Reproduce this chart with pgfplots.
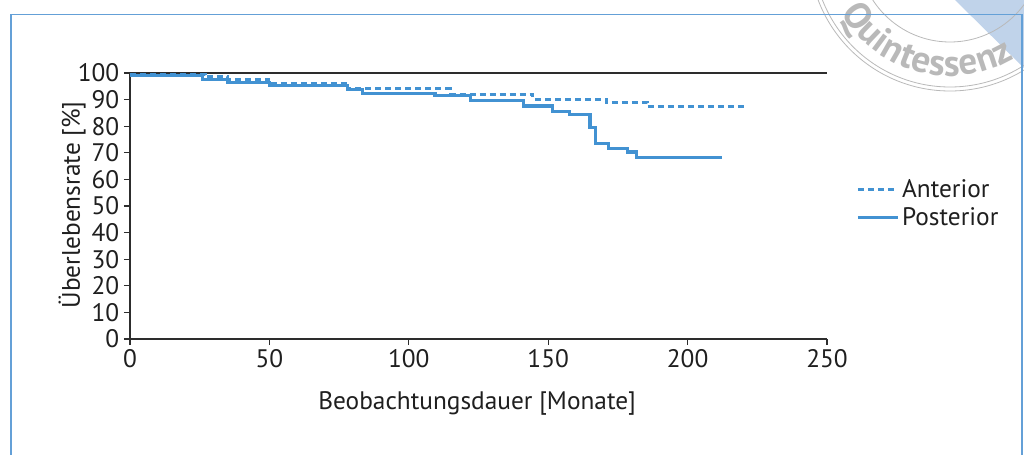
\documentclass[border=0pt]{standalone}
\usepackage{fontspec}
\setmainfont{PT Sans}
\usepackage{pgfplots}
\pgfplotsset{compat=1.18}
\usetikzlibrary{decorations.text}
\definecolor{curve}{RGB}{66,146,210}
\definecolor{frameblue}{RGB}{100,160,215}
\definecolor{axisgray}{RGB}{45,45,45}
\definecolor{stampgray}{RGB}{185,185,185}
\definecolor{stampblue}{RGB}{192,211,234}
\newcommand{\lblfont}{\fontsize{19}{22}\selectfont}
\begin{document}
\begin{tikzpicture}[x=0.75pt,y=0.75pt]
\useasboundingbox (0,0) rectangle (1024,454);
% watermark stamp
\begin{scope}
\clip (0,0) rectangle (1024,454);
\begin{scope}
\clip (950,504) circle (141);
\fill[stampblue] (955,454) -- (1030,454) -- (1030,380) -- cycle;
\end{scope}
\draw[stampgray, line width=0.6pt] (950,504) circle (92);
\draw[stampgray, line width=0.6pt] (950,504) circle (137);
\draw[stampgray, line width=0.6pt] (950,504) circle (141);
\path[decorate, decoration={text along path, text align=fit to path,
  text={|\fontsize{28}{28}\selectfont\bfseries\color{stampgray}|Quintessenz}}]
  (950,504) ++(-150:126) arc[start angle=-150, end angle=-59, radius=126];
\end{scope}
% frame
\draw[frameblue, line width=1pt] (11,439.5) rectangle (1022,-20);
\begin{axis}[
  at={(97.5pt,86.25pt)}, anchor=south west,
  scale only axis, width=522.75pt, height=199.5pt,
  xmin=0, xmax=250, ymin=0, ymax=100,
  clip=false,
  axis x line=box, axis y line=left,
  axis line style={-, axisgray, line width=1pt},
  xtick={0,50,...,250}, ytick={0,10,...,100},
  xtick pos=left,
  tick align=outside, major tick length=4.5pt,
  tick style={axisgray, line width=0.8pt},
  ticklabel style={font=\lblfont, text=black!88},
  /pgf/number format/assume math mode=true,
  xlabel={Beobachtungsdauer [Monate]},
  ylabel={Überlebensrate [\%]},
  xlabel style={at={(axis description cs:0.498,-0.244)}, anchor=center, font=\lblfont, text=black!88},
  ylabel style={at={(axis description cs:-0.083,0.504)}, anchor=center, font=\lblfont, text=black!88},
  legend style={at={(1.036,0.51)}, anchor=west, draw=none, fill=none, font=\lblfont, text=black!88, row sep=2pt},
  legend cell align=left,
  legend image code/.code={\draw[#1] (0pt,0pt) -- (30pt,0pt);},
]
\addplot[curve, line width=2.3pt, dash pattern=on 4.5pt off 3pt, const plot] coordinates {
 (0,99.6) (27,98.6) (35,97.7) (49.5,96.2) (78,94.0) (115,91.9) (144.5,90.2) (171,89.0) (185.5,87.5) (220.5,87.5)
};
\addlegendentry{Anterior}
\addplot[curve, line width=2.3pt, const plot] coordinates {
 (0,99) (26,97.5) (35,96.4) (50,95.3) (78,93.7) (83.5,92.3) (109.4,91.7) (122,89.8) (141,87.6) (151.7,85.6) (157.8,84.4) (165,79.4) (166.8,73.6) (171.5,71.7) (178.6,70.3) (181.8,68.3) (212.3,68.3)
};
\addlegendentry{Posterior}
\end{axis}
\end{tikzpicture}
\end{document}
